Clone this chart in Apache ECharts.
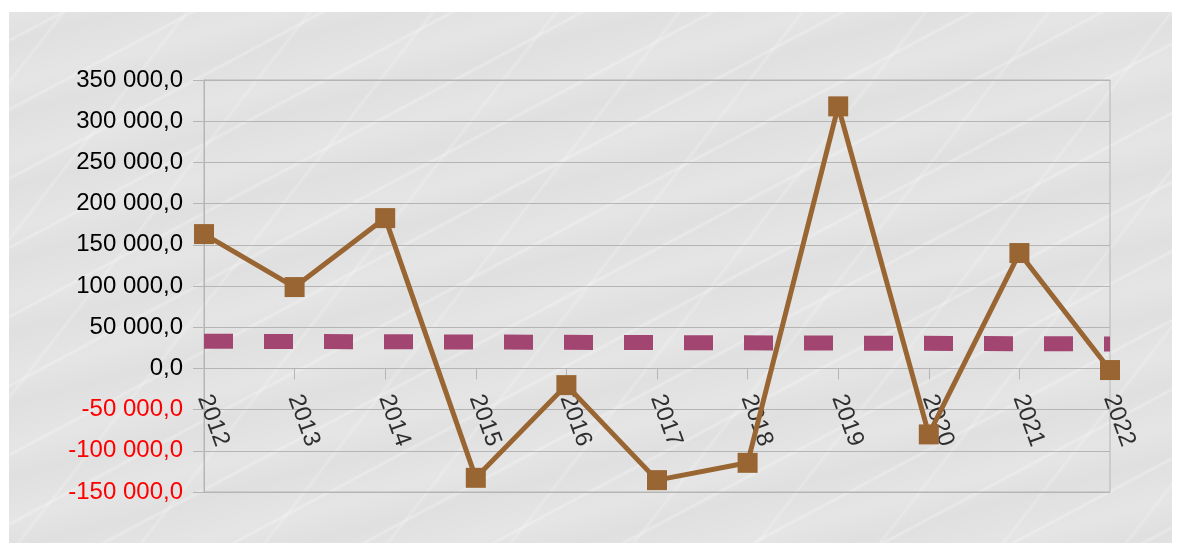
<!DOCTYPE html>
<html>
<head>
<meta charset="utf-8">
<script src="https://cdn.jsdelivr.net/npm/echarts@6/dist/echarts.min.js"></script>
<style>
  html, body { margin: 0; padding: 0; background: #ffffff; }
  #wrap { position: relative; width: 1179px; height: 543px; overflow: hidden; }
  /* light grey marble panel behind the chart */
  #panel {
    position: absolute; left: 9px; top: 12px; width: 1163px; height: 531px;
    background-color: #e5e5e5;
    background-image:
      repeating-linear-gradient(152deg, rgba(255,255,255,0) 0px, rgba(255,255,255,0) 23px, rgba(255,255,255,0.28) 25px, rgba(255,255,255,0) 28px, rgba(255,255,255,0) 61px),
      repeating-linear-gradient(128deg, rgba(255,255,255,0) 0px, rgba(255,255,255,0) 41px, rgba(255,255,255,0.22) 43px, rgba(255,255,255,0) 46px, rgba(255,255,255,0) 97px),
      repeating-linear-gradient(165deg, rgba(205,205,205,0) 0px, rgba(205,205,205,0.22) 30px, rgba(205,205,205,0) 70px);
  }
  #chart { position: absolute; left: 0; top: 0; width: 1179px; height: 543px; }
</style>
</head>
<body>
<div id="wrap">
  <div id="panel"></div>
  <div id="chart"></div>
</div>
<script>
// Years on the category axis
const years = ['2012', '2013', '2014', '2015', '2016', '2017', '2018', '2019', '2020', '2021', '2022'];
// Yearly values
const values = [163000, 98700, 182400, -132800, -20300, -135600, -114600, 318000, -80100, 140000, -2000];
// Linear trend line end points (first and last year)
const trendYears = ['2012', '2022'];
const trendValues = [33000, 29700];
// Value axis range
const yMin = -150000;
const yMax = 350000;
const yStep = 50000;

function formatNumber(v) {
  const neg = v < 0;
  const s = Math.round(Math.abs(v)).toString().replace(/\B(?=(\d{3})+(?!\d))/g, ' ');
  return (neg ? '-' : '') + s + ',0';
}

const chart = echarts.init(document.getElementById('chart'), null, { renderer: 'canvas' });
const gridColor = '#b5b5b5';
const font = '"Liberation Sans", Arial, sans-serif';

chart.setOption({
  backgroundColor: 'transparent',
  animation: false,
  grid: {
    left: 204, right: 69, top: 80, bottom: 51,
    outerBoundsMode: 'none', containLabel: false,
    show: true, borderColor: gridColor, borderWidth: 1, backgroundColor: 'transparent'
  },
  xAxis: {
    type: 'category',
    data: years,
    boundaryGap: false,
    axisLine: { onZero: true, lineStyle: { color: gridColor, width: 1 } },
    axisTick: { show: true, length: 11, lineStyle: { color: gridColor } },
    // year labels are drawn along the zero line by the 'yearLabels' series
    axisLabel: { show: false },
    splitLine: { show: false }
  },
  yAxis: {
    type: 'value',
    min: yMin, max: yMax, interval: yStep,
    axisLine: { show: true, lineStyle: { color: gridColor, width: 1 } },
    axisTick: { show: true, length: 11, lineStyle: { color: gridColor } },
    axisLabel: {
      margin: 21, fontFamily: font, fontSize: 24,
      formatter: formatNumber,
      color: function (v) { return Number(v) < 0 ? '#ff0000' : '#000000'; }
    },
    splitLine: { show: true, lineStyle: { color: gridColor, width: 1 } }
  },
  series: [
    {
      name: 'yearLabels',
      type: 'scatter',
      data: years.map(y => [y, 0]),
      symbol: 'circle',
      symbolSize: 2,
      itemStyle: { color: 'rgba(0,0,0,0)' },
      silent: true,
      z: 1,
      labelLayout: { hideOverlap: false },
      label: {
        show: true,
        position: [1, 28],
        formatter: p => p.value[0],
        rotate: -70,
        align: 'left',
        verticalAlign: 'middle',
        color: '#000000',
        textBorderWidth: 0,
        fontFamily: font,
        fontSize: 24
      }
    },
    {
      name: 'trend',
      type: 'line',
      data: trendYears.map((y, i) => [y, trendValues[i]]),
      symbol: 'none',
      lineStyle: { color: '#a24570', width: 15, type: [29, 31], cap: 'butt' },
      z: 2,
      silent: true
    },
    {
      name: 'value',
      type: 'line',
      data: values,
      symbol: 'rect',
      symbolSize: 20,
      itemStyle: { color: '#996633' },
      lineStyle: { color: '#996633', width: 5 },
      z: 3
    }
  ]
});
</script>
</body>
</html>
